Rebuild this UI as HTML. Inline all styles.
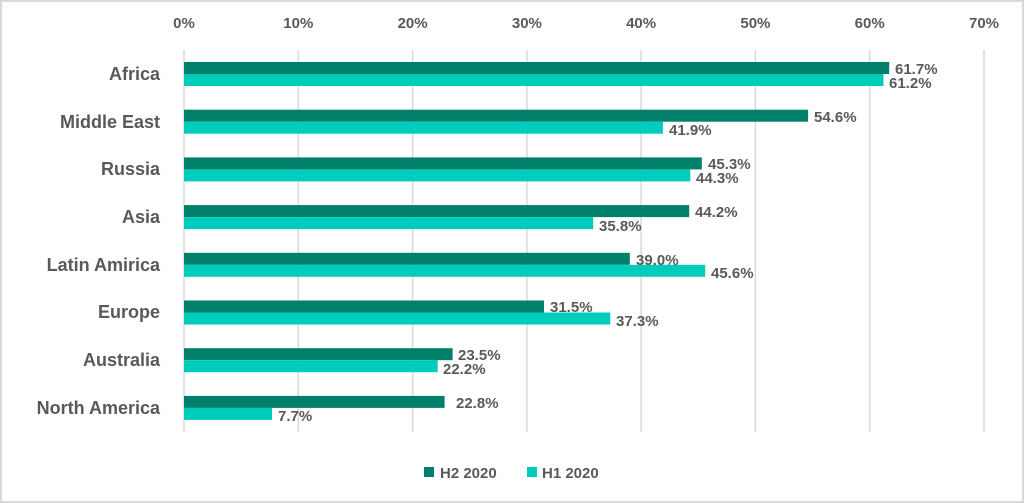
<!DOCTYPE html>
<html><head><meta charset="utf-8"><style>
html,body{margin:0;padding:0;background:#fff}
svg{display:block}
text{font-family:"Liberation Sans",sans-serif;font-weight:bold;fill:#595959}
</style></head><body>
<svg width="1024" height="503" viewBox="0 0 1024 503">
<rect x="1" y="1" width="1022" height="501" fill="#fff" stroke="#d9d9d9" stroke-width="2"/>
<g stroke="#d9d9d9" stroke-width="1.5">
<line x1="184" y1="50" x2="184" y2="432"/>
<line x1="298.3" y1="50" x2="298.3" y2="432"/>
<line x1="412.6" y1="50" x2="412.6" y2="432"/>
<line x1="526.9" y1="50" x2="526.9" y2="432"/>
<line x1="641.1" y1="50" x2="641.1" y2="432"/>
<line x1="755.4" y1="50" x2="755.4" y2="432"/>
<line x1="869.7" y1="50" x2="869.7" y2="432"/>
<line x1="984" y1="50" x2="984" y2="432"/>
</g>
<g font-size="15" text-anchor="middle">
<text x="184" y="28">0%</text><text x="298.3" y="28">10%</text><text x="412.6" y="28">20%</text><text x="526.9" y="28">30%</text><text x="641.1" y="28">40%</text><text x="755.4" y="28">50%</text><text x="869.7" y="28">60%</text><text x="984" y="28">70%</text>
</g>
<g id="bars"></g>
<g font-size="18" text-anchor="end">
<text x="160" y="80">Africa</text>
<text x="160" y="128">Middle East</text>
<text x="160" y="175">Russia</text>
<text x="160" y="223">Asia</text>
<text x="160" y="271">Latin Amirica</text>
<text x="160" y="318">Europe</text>
<text x="160" y="366">Australia</text>
<text x="160" y="414">North America</text>
</g>
<g>
<rect x="184" y="62" width="705.2" height="12" fill="#007F6A"/><rect x="184" y="74" width="699.5" height="12" fill="#00CCBB"/>
<rect x="184" y="109.7" width="624.1" height="12" fill="#007F6A"/><rect x="184" y="121.7" width="478.9" height="12" fill="#00CCBB"/>
<rect x="184" y="157.4" width="517.8" height="12" fill="#007F6A"/><rect x="184" y="169.4" width="506.3" height="12" fill="#00CCBB"/>
<rect x="184" y="205.1" width="505.2" height="12" fill="#007F6A"/><rect x="184" y="217.1" width="409.2" height="12" fill="#00CCBB"/>
<rect x="184" y="252.8" width="445.8" height="12" fill="#007F6A"/><rect x="184" y="264.8" width="521.2" height="12" fill="#00CCBB"/>
<rect x="184" y="300.5" width="360" height="12" fill="#007F6A"/><rect x="184" y="312.5" width="426.3" height="12" fill="#00CCBB"/>
<rect x="184" y="348.2" width="268.6" height="12" fill="#007F6A"/><rect x="184" y="360.2" width="253.7" height="12" fill="#00CCBB"/>
<rect x="184" y="395.9" width="260.6" height="12" fill="#007F6A"/><rect x="184" y="407.9" width="88" height="12" fill="#00CCBB"/>
</g>
<g font-size="15">
<text x="895" y="74">61.7%</text><text x="889" y="88">61.2%</text>
<text x="814" y="122">54.6%</text><text x="669" y="135">41.9%</text>
<text x="708" y="169">45.3%</text><text x="696" y="183">44.3%</text>
<text x="695" y="217">44.2%</text><text x="599" y="231">35.8%</text>
<text x="636" y="265">39.0%</text><text x="711" y="278">45.6%</text>
<text x="550" y="312">31.5%</text><text x="616" y="326">37.3%</text>
<text x="458" y="360">23.5%</text><text x="443" y="374">22.2%</text>
<text x="456" y="408">22.8%</text><text x="278" y="421">7.7%</text>
</g>
<rect x="424" y="467" width="10" height="10" fill="#007F6A"/>
<text x="440" y="478" font-size="15">H2 2020</text>
<rect x="527" y="467" width="10" height="10" fill="#00CCBB"/>
<text x="542" y="478" font-size="15">H1 2020</text>
</svg>
</body></html>
